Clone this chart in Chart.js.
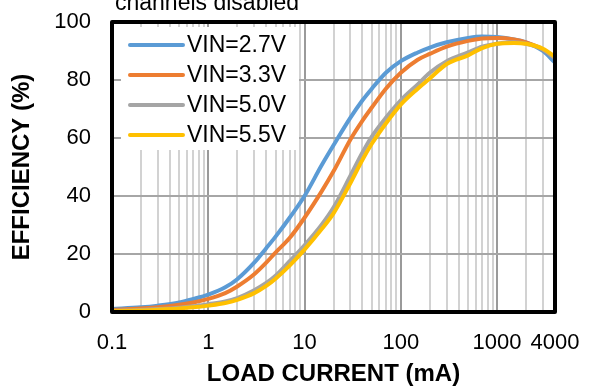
<!DOCTYPE html>
<html>
<head>
<meta charset="utf-8">
<script src="https://cdn.jsdelivr.net/npm/chart.js@4/dist/chart.umd.min.js"></script>
<style>
  html,body{margin:0;padding:0;background:#fff;}
  #wrap{position:relative;width:595px;height:386px;}
</style>
</head>
<body>
<div id="wrap"><canvas id="c" width="595" height="386"></canvas></div>
<script>
// ---- data ----
const loadCurrent = [0.1,0.2,0.3,0.5,0.7,1,1.5,2,3,4,5,7,10,15,20,30,40,50,70,100,150,200,300,500,700,1000,1500,2000,3000,4000];
const eff27 = [1.0,1.6,2.2,3.3,4.5,6.0,8.5,11.3,17,22,26,32.5,40,50.5,57.5,67,73,77,82.5,86.5,89.5,91.2,93,94.5,95,94.8,94,93,90,86];
const eff33 = [0.7,1.2,1.6,2.5,3.3,4.5,6.5,8.8,13,17,20.5,25.5,32.5,41.5,48.5,59.5,66,70.5,77,82.5,87,89,91.5,93.5,94.3,94.5,94,93,90.5,87.5];
const eff50 = [0.4,0.7,1.0,1.5,2.0,2.7,3.6,4.8,7.5,10,12.5,17.5,23,30,36,47,55,60.5,67,73,78.5,82.5,86.5,89.5,91.5,92.5,93,92.5,90.5,87.5];
const eff55 = [0.3,0.5,0.8,1.2,1.6,2.2,3.1,4.2,6.5,9,11.5,16,21.5,28.5,34,44.5,52.5,58,65,71.5,77,80.5,85.5,88.5,91,92.5,92.8,92.5,90.8,88];
const seriesLabels = ['VIN=2.7V','VIN=3.3V','VIN=5.0V','VIN=5.5V'];
const seriesColors = ['#5B9BD5','#ED7D31','#A5A5A5','#FFC000'];
const xLabelTicks = [0.1,1,10,100,1000,4000];
const xTickLabels = ['0.1','1','10','100','1000','4000'];
const yTicks = [0,20,40,60,80,100];
const titleText = 'channels disabled';
const xTitle = 'LOAD CURRENT (mA)';
const yTitle = 'EFFICIENCY (%)';

const FONT = '"Liberation Sans", Arial, sans-serif';
const allSeries = [eff27, eff33, eff50, eff55];
const X_MIN = 0.1, X_MAX = 4000;

// gridline positions (1..9 x decade) up to the axis end
const xGridTicks = [];
[0.1,1,10,100,1000].forEach(d => { for (let k = 1; k <= 9; k++) { const v = +(d*k).toPrecision(3); if (v <= X_MAX) xGridTicks.push(v); } });
const isDecade = v => [0.1,1,10,100,1000].some(t => Math.abs(t - v) / t < 1e-6);

const datasets = allSeries.map((arr, i) => ({
  label: seriesLabels[i],
  data: loadCurrent.map((x, j) => ({x: x, y: arr[j]})),
  borderColor: seriesColors[i],
  backgroundColor: seriesColors[i],
  borderWidth: 4,
  pointRadius: 0,
  cubicInterpolationMode: 'monotone',
  borderCapStyle: 'round',
  borderJoinStyle: 'round',
  fill: false,
  order: allSeries.length - i
}));

const boxLegend = {
  id: 'boxLegend',
  beforeDatasetsDraw(chart) {
    const ctx = chart.ctx, a = chart.chartArea;
    ctx.save();
    ctx.fillStyle = '#ffffff';
    ctx.fillRect(a.left + 9, a.top + 5, 178, 123);
    chart.data.datasets.forEach((ds, i) => {
      const y = a.top + 23 + i * 30;
      ctx.strokeStyle = ds.borderColor;
      ctx.lineWidth = 4;
      ctx.lineCap = 'round';
      ctx.beginPath();
      ctx.moveTo(a.left + 18, y);
      ctx.lineTo(a.left + 71, y);
      ctx.stroke();
      ctx.fillStyle = '#000';
      ctx.font = '23px ' + FONT;
      ctx.textBaseline = 'middle';
      ctx.textAlign = 'left';
      ctx.fillText(ds.label, a.left + 75, y + 1);
    });
    ctx.restore();
  },
  afterDatasetsDraw(chart) {
    const ctx = chart.ctx, a = chart.chartArea;
    ctx.save();
    ctx.strokeStyle = '#000';
    ctx.lineWidth = 4;
    ctx.lineJoin = 'round';
    ctx.strokeRect(a.left, a.top, a.right - a.left, a.bottom - a.top);
    ctx.restore();
  },
  afterDraw(chart) {
    const ctx = chart.ctx;
    ctx.save();
    ctx.fillStyle = '#000';
    ctx.font = '23px ' + FONT;
    ctx.textBaseline = 'alphabetic';
    ctx.textAlign = 'left';
    ctx.fillText(titleText, 115, 10);
    ctx.restore();
  }
};

new Chart(document.getElementById('c'), {
  type: 'line',
  data: { datasets: datasets },
  plugins: [boxLegend],
  options: {
    responsive: false,
    devicePixelRatio: 1,
    animation: false,
    layout: { padding: { top: 22, right: 40, left: 0, bottom: 0 } },
    plugins: {
      legend: { display: false },
      tooltip: { enabled: false },
      title: { display: false }
    },
    scales: {
      x: {
        type: 'logarithmic',
        min: X_MIN, max: X_MAX,
        afterBuildTicks: s => { s.ticks = xGridTicks.map(v => ({value: v})); },
        afterFit: s => { s.height = 74; s.paddingLeft = 0; s.paddingRight = 0; },
        grid: {
          drawTicks: false,
          color: c => (c.tick && isDecade(c.tick.value)) ? '#9a9a9a' : '#d2d2d2',
          lineWidth: 2
        },
        border: { display: false },
        ticks: {
          autoSkip: false, maxRotation: 0, minRotation: 0,
          padding: 18,
          color: '#000',
          font: { family: FONT, size: 22 },
          callback: v => { const k = xLabelTicks.findIndex(t => Math.abs(t - v) / t < 1e-6); return k >= 0 ? xTickLabels[k] : ''; }
        },
        title: {
          display: true, text: xTitle, color: '#000',
          font: { family: FONT, size: 24, weight: 'bold', lineHeight: 1.0 },
          padding: { top: 0, bottom: 0 }
        }
      },
      y: {
        min: 0, max: 100,
        afterBuildTicks: s => { s.ticks = yTicks.map(v => ({value: v})); },
        afterFit: s => { s.width = 112; s.paddingTop = 0; s.paddingBottom = 0; },
        grid: { drawTicks: false, color: '#a6a6a6', lineWidth: 2 },
        border: { display: false },
        ticks: {
          padding: 21, color: '#000',
          font: { family: FONT, size: 22 }
        },
        title: {
          display: true, text: yTitle, color: '#000',
          font: { family: FONT, size: 24, weight: 'bold' },
          padding: { top: 8, bottom: 0 }
        }
      }
    }
  }
});
</script>
</body>
</html>
